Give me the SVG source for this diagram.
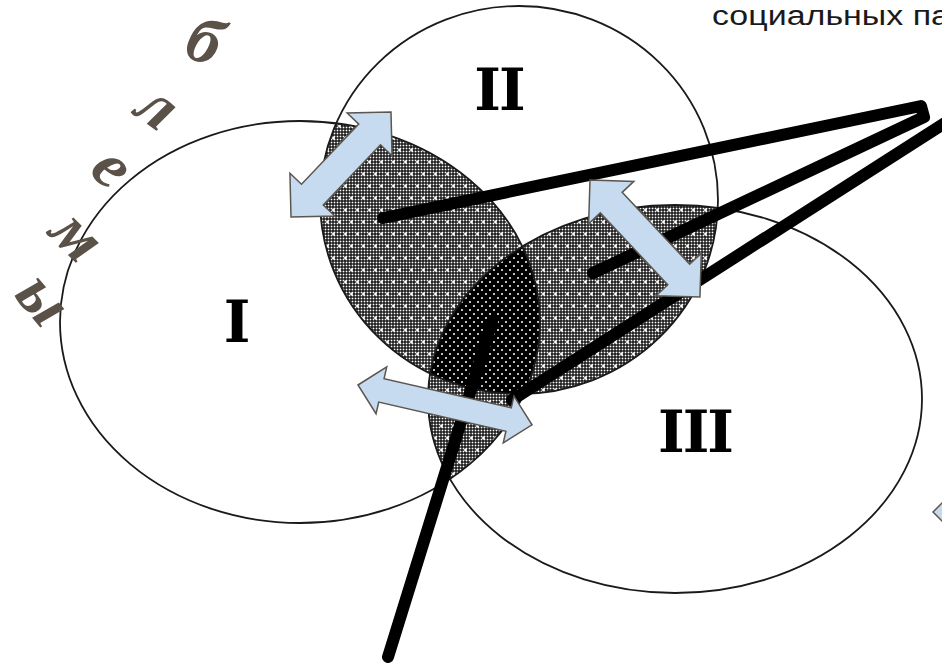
<svg xmlns="http://www.w3.org/2000/svg" width="942" height="668" viewBox="0 0 942 668">
  <style>
    .outline { fill: none; stroke: #1a1a1a; stroke-width: 1.8; }
    .roman { font-family: "DejaVu Serif", "Liberation Serif", serif; font-weight: bold; font-size: 57px; fill: #000; text-anchor: middle; letter-spacing: -2px; }
    .arc { font-family: "Liberation Serif", "DejaVu Serif", serif; font-weight: bold; font-style: italic; font-size: 66px; fill: #5a5148; text-anchor: middle; dominant-baseline: central; }
    .bar { fill: none; stroke: #000; stroke-width: 12; stroke-linecap: round; stroke-linejoin: round; }
    .arrow { fill: #c6dbef; stroke: #5b5650; stroke-width: 1.5; stroke-linejoin: miter; }
    .caption { font-family: "Liberation Sans", Arial, sans-serif; font-size: 27px; fill: #1a1a1a; }
  </style>
  <defs>
    <pattern id="mesh" width="3" height="3" patternUnits="userSpaceOnUse">
      <rect width="3" height="3" fill="#000"/>
      <rect x="0.6" y="0.6" width="1.8" height="1.8" fill="#fff"/>
    </pattern>
    <pattern id="gray" width="12" height="24" patternUnits="userSpaceOnUse">
      <rect width="12" height="24" fill="url(#mesh)"/>
      <path d="M2,6h3M3.5,4.5v3M8,18h3M9.5,16.5v3" stroke="#fff" stroke-width="1.3" fill="none"/>
    </pattern>
    <pattern id="dark" width="8" height="8" patternUnits="userSpaceOnUse">
      <rect width="8" height="8" fill="#000"/>
      <circle cx="2" cy="2" r="1" fill="#fff"/>
      <circle cx="6" cy="6" r="1" fill="#fff"/>
    </pattern>
    <clipPath id="cI"><ellipse cx="300" cy="322" rx="240" ry="201"/></clipPath>
    <clipPath id="cII"><ellipse cx="519" cy="200" rx="199" ry="194"/></clipPath>
    <clipPath id="cIII"><ellipse cx="675" cy="399" rx="247" ry="194"/></clipPath>
  </defs>

  <rect width="942" height="668" fill="#fff"/>

  <g id="intersections">
    <g clip-path="url(#cII)"><ellipse cx="300" cy="322" rx="240" ry="201" fill="url(#gray)"/></g>
    <g clip-path="url(#cIII)"><ellipse cx="519" cy="200" rx="199" ry="194" fill="url(#gray)"/></g>
    <g clip-path="url(#cIII)"><ellipse cx="300" cy="322" rx="240" ry="201" fill="url(#gray)"/></g>
    <g clip-path="url(#cIII)"><g clip-path="url(#cII)"><ellipse cx="300" cy="322" rx="240" ry="201" fill="url(#dark)"/></g></g>
  </g>

  <g id="set-I">
    <ellipse class="outline" cx="300" cy="322" rx="240" ry="201"/>
    <text class="roman" x="236" y="342">I</text>
  </g>
  <g id="set-II">
    <ellipse class="outline" cx="519" cy="200" rx="199" ry="194"/>
    <text class="roman" x="499" y="110">II</text>
  </g>
  <g id="set-III">
    <ellipse class="outline" cx="675" cy="399" rx="247" ry="194"/>
    <text class="roman" x="695" y="452">III</text>
  </g>

  <g id="connectors">
    <polyline class="bar" points="383,218 921,106 924,117 593,273"/>
    <line class="bar" x1="948" y1="121" x2="512" y2="400"/>
    <line class="bar" x1="388" y1="657" x2="492" y2="322"/>

    <polygon class="arrow" transform="translate(291,217) rotate(-46.4)" points="0,0 31,-31 31,-15 114,-15 114,-31 145,0 114,31 114,15 31,15 31,31"/>
    <polygon class="arrow" transform="translate(590,180) rotate(46.8)" points="0,0 31,-31 31,-15 129.6,-15 129.6,-31 160.6,0 129.6,31 129.6,15 31,15 31,31"/>
    <polygon class="arrow" transform="translate(358,385) rotate(12.9)" points="0,0 24,-24 24,-12 154.5,-12 154.5,-24 178.5,0 154.5,24 154.5,12 24,12 24,24"/>
    <polygon class="arrow" points="933,512 948,497 948,527"/>
  </g>

  <g id="arched-title">
    <text class="arc" transform="translate(205,40) rotate(20)">б</text>
    <text class="arc" transform="translate(159,105) rotate(35)">л</text>
    <text class="arc" transform="translate(114,166) rotate(45)">е</text>
    <text class="arc" transform="translate(79,234) rotate(45)">м</text>
    <text class="arc" transform="translate(45,298) rotate(50)">ы</text>
  </g>

  <g id="caption">
    <text class="caption" x="712" y="25" textLength="238" lengthAdjust="spacingAndGlyphs">социальных па</text>
  </g>
</svg>
